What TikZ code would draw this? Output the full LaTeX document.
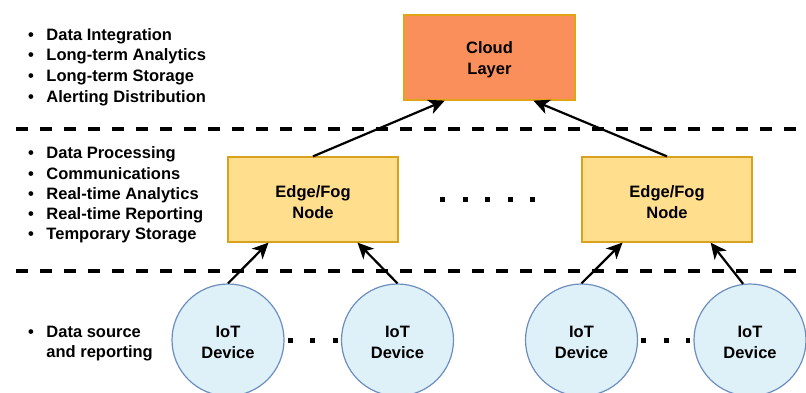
\documentclass[tikz,border=0pt]{standalone}
\usepackage{fontspec}
\setmainfont{Liberation Sans}
\usetikzlibrary{arrows.meta,calc}

\definecolor{cloudfill}{HTML}{FB8F5B}
\definecolor{cloudline}{HTML}{E0A416}
\definecolor{edgefill}{HTML}{FFDE8E}
\definecolor{edgeline}{HTML}{D9A21E}
\definecolor{devfill}{HTML}{DFF1F8}
\definecolor{devline}{HTML}{6C8EBF}

\newcommand{\txtfont}{\fontsize{16.5}{20.7}\selectfont\bfseries}

\begin{document}
\begin{tikzpicture}[x=1pt,y=-1pt,
  lbl/.style={font=\txtfont, align=center, inner sep=0pt},
  inlabel/.style={label={[lbl,yshift=-2.5pt]center:{#1}}},
  cloudbox/.style={draw=cloudline, fill=cloudfill, line width=1.2pt,
    minimum width=171pt, minimum height=85pt},
  fogbox/.style={draw=edgeline, fill=edgefill, line width=1.2pt,
    minimum width=170pt, minimum height=85pt},
  device/.style={circle, draw=devline, fill=devfill, line width=1.2pt,
    minimum size=112pt},
  layerline/.style={line width=4pt, dash pattern=on 12pt off 12pt},
  link/.style={line width=2.2pt, -{Stealth[length=16pt,width=15pt,inset=4.5pt]}},
  dotrow/.style={line width=5pt, dash pattern=on 5pt off 17.5pt},
  bullets/.style={anchor=north west, inner sep=0pt, font=\txtfont, align=left}
]
\useasboundingbox (0,0) rectangle (806,393);

% layer separators
\draw[layerline] (16,129) -- (806,129);
\draw[layerline] (16,270.5) -- (806,270.5);

% nodes
\node[cloudbox, inlabel={Cloud\\Layer}] (cloud) at (489.5,57.5) {};
\node[fogbox, inlabel={Edge/Fog\\Node}] (fog1) at (313,199.5) {};
\node[fogbox, inlabel={Edge/Fog\\Node}] (fog2) at (667,199.5) {};
\node[device, inlabel={IoT\\Device}] (iot1) at (228,340) {};
\node[device, inlabel={IoT\\Device}] (iot2) at (397.5,340) {};
\node[device, inlabel={IoT\\Device}] (iot3) at (581.5,340) {};
\node[device, inlabel={IoT\\Device}] (iot4) at (750,340) {};

% ellipsis markers between peers
\draw[dotrow, shorten <=41.5pt, shorten >=41.5pt] (fog1.east) -- (fog2.west);
\draw[dotrow, shorten <=3pt, shorten >=3pt] (iot1.east) -- (iot2.west);
\draw[dotrow, shorten <=3pt, shorten >=3pt] (iot3.east) -- (iot4.west);

% uplinks
\draw[link] (fog1.north) -- ($(cloud.south west)!0.24!(cloud.south east)$);
\draw[link] (fog2.north) -- ($(cloud.south west)!0.755!(cloud.south east)$);
\draw[link] (iot1.north) -- ($(fog1.south west)!0.24!(fog1.south east)$);
\draw[link] (iot2.north) -- ($(fog1.south west)!0.76!(fog1.south east)$);
\draw[link] (iot3.north) -- ($(fog2.south west)!0.24!(fog2.south east)$);
\draw[link] (iot4.97) -- ($(fog2.south west)!0.755!(fog2.south east)$);

% layer descriptions
\node[bullets] (cloudroles) at (28,25.5) {%
  \begin{tabular}{@{}l@{\hspace{12.5pt}}l@{}}
  \textbullet & Data Integration\\
  \textbullet & Long-term Analytics\\
  \textbullet & Long-term Storage\\
  \textbullet & Alerting Distribution
  \end{tabular}};
\node[bullets, font=\fontsize{16.5}{20.2}\selectfont\bfseries] (fogroles) at (28,144.5) {%
  \begin{tabular}{@{}l@{\hspace{12.5pt}}l@{}}
  \textbullet & Data Processing\\
  \textbullet & Communications\\
  \textbullet & Real-time Analytics\\
  \textbullet & Real-time Reporting\\
  \textbullet & Temporary Storage
  \end{tabular}};
\node[bullets] (devroles) at (28,322.5) {%
  \begin{tabular}{@{}l@{\hspace{12.5pt}}l@{}}
  \textbullet & Data source\\
              & and reporting
  \end{tabular}};
\end{tikzpicture}
\end{document}
